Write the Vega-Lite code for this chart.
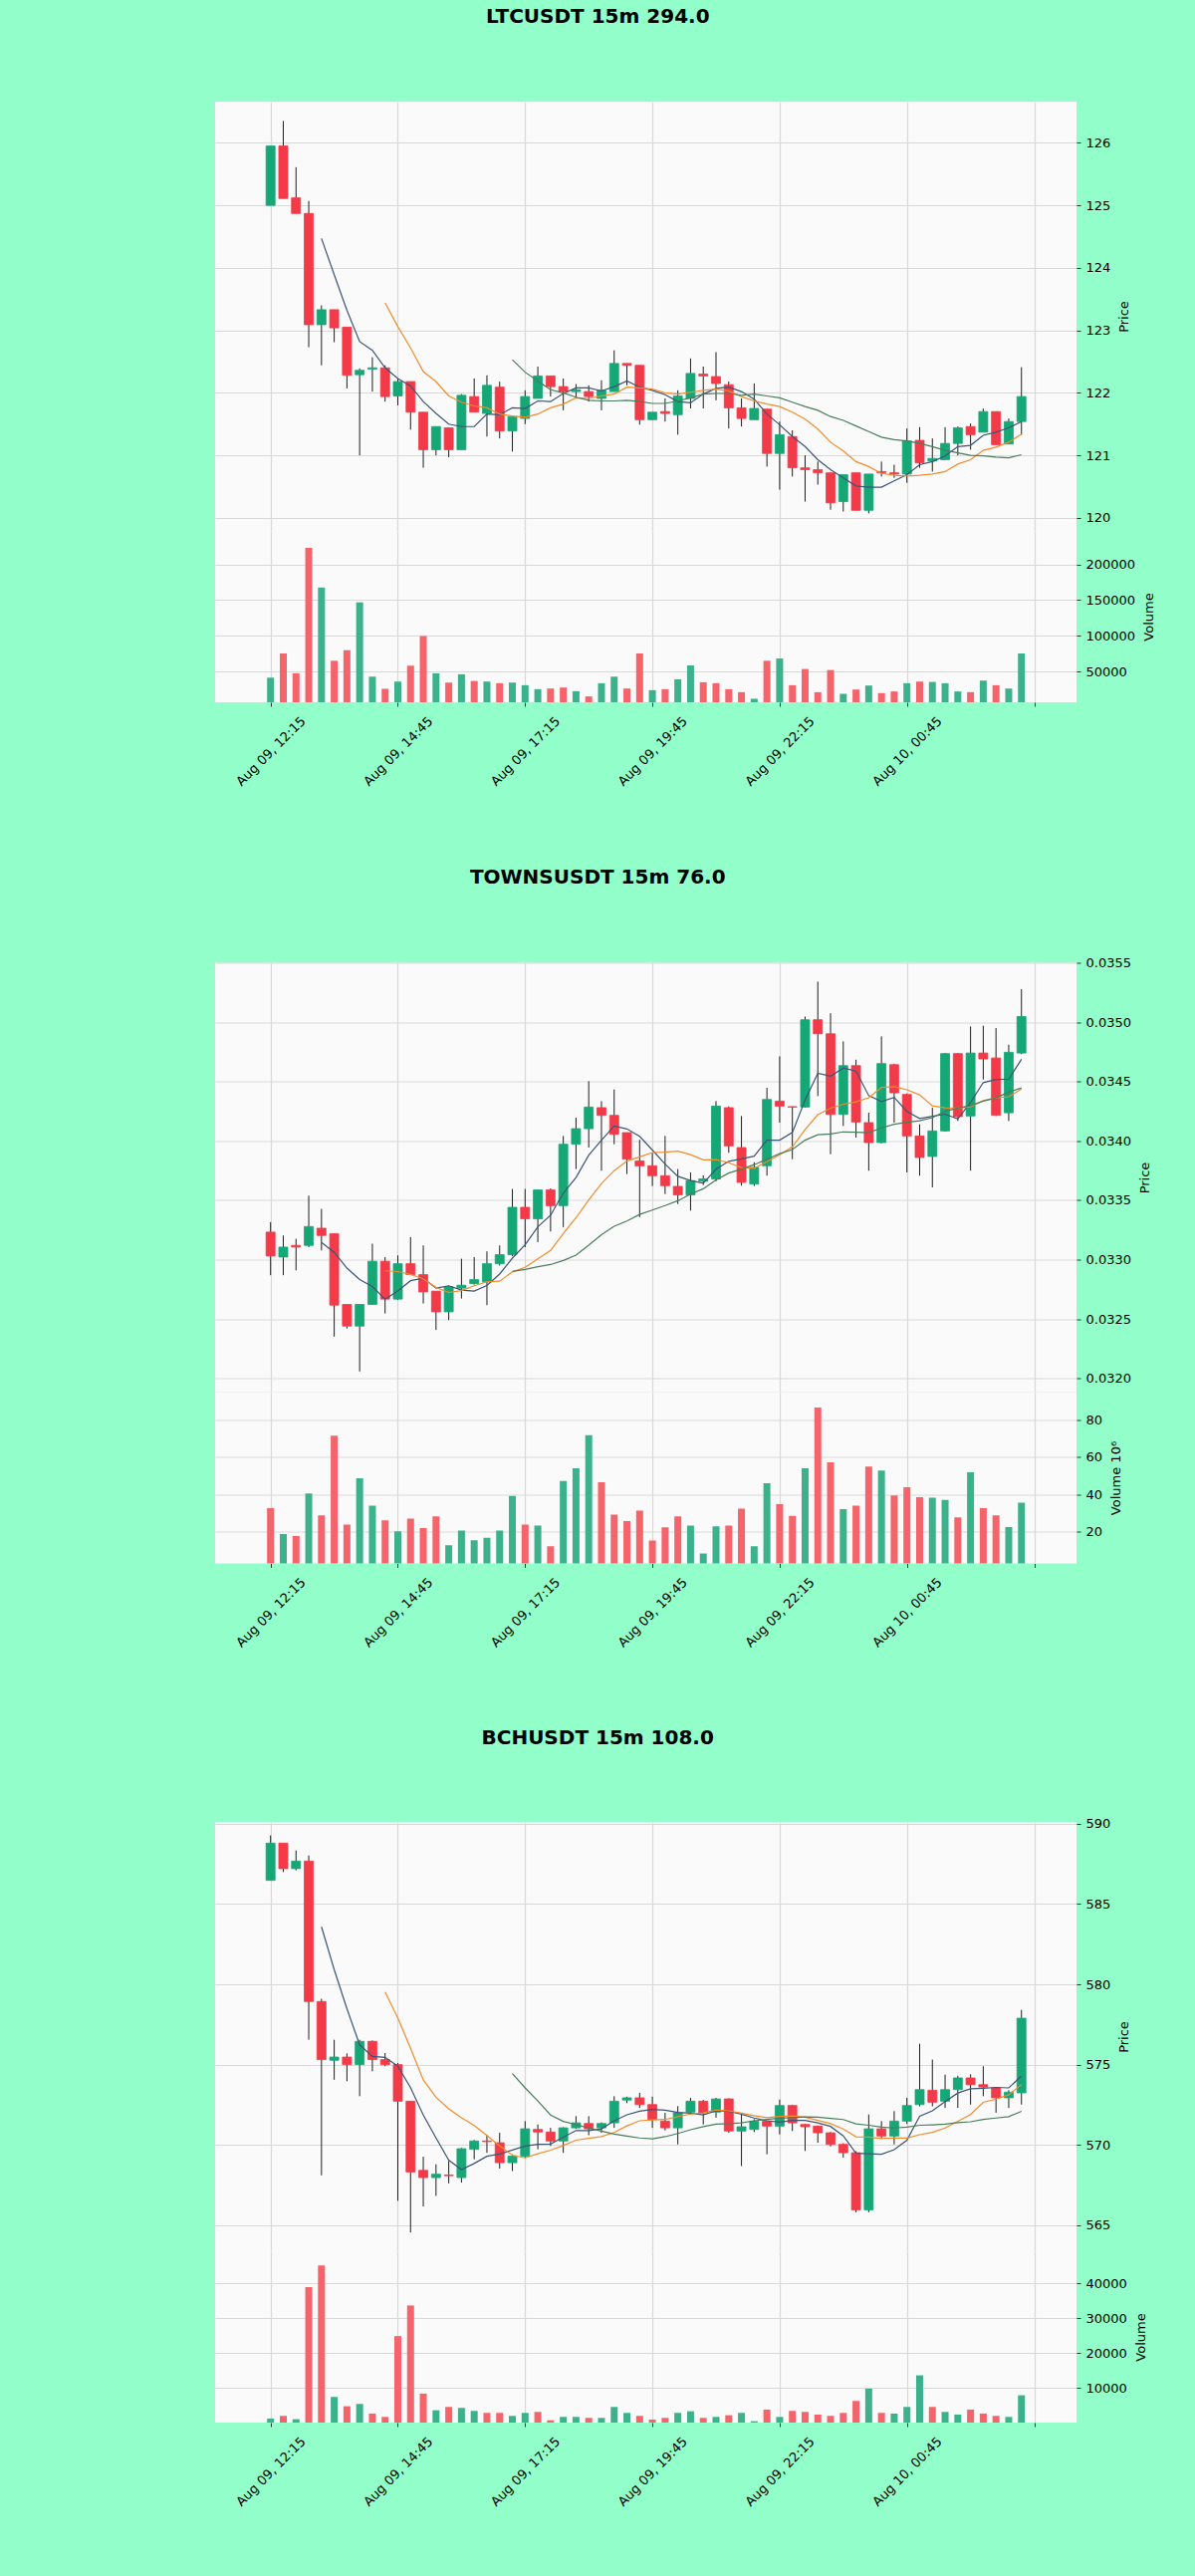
{
  "$schema": "https://vega.github.io/schema/vega-lite/v6.json",
  "background": "#92fec9",
  "padding": {"left": 216, "top": 6, "right": 60, "bottom": 120},
  "config": {
    "font": "DejaVu Sans",
    "view": {"fill": "#fafafa", "stroke": null},
    "axis": {
      "labelFont": "DejaVu Sans", "titleFont": "DejaVu Sans",
      "labelFontSize": 13, "titleFontSize": 13, "titleFontWeight": "normal",
      "labelColor": "#000000", "titleColor": "#000000",
      "gridColor": "#d9d9d9", "gridWidth": 1.2,
      "tickColor": "#333333", "tickSize": 4, "domain": false
    },
    "title": {"font": "DejaVu Sans", "fontSize": 20, "fontWeight": "bold", "color": "#000000"}
  },
  "datasets": {
    "ltc": [
      {"t":"2025-08-09T12:15","o":125.0,"h":125.95,"l":125.0,"c":125.95,"v":41500},
      {"t":"2025-08-09T12:30","o":125.95,"h":126.35,"l":125.11,"c":125.11,"v":75300},
      {"t":"2025-08-09T12:45","o":125.12,"h":125.61,"l":124.87,"c":124.87,"v":47600},
      {"t":"2025-08-09T13:00","o":124.87,"h":125.07,"l":122.73,"c":123.09,"v":223000},
      {"t":"2025-08-09T13:15","o":123.09,"h":123.4,"l":122.44,"c":123.33,"v":167600,"m5":124.47},
      {"t":"2025-08-09T13:30","o":123.33,"h":123.33,"l":122.81,"c":123.04,"v":65100,"m5":123.89},
      {"t":"2025-08-09T13:45","o":123.05,"h":123.05,"l":122.07,"c":122.28,"v":79900,"m5":123.32},
      {"t":"2025-08-09T14:00","o":122.29,"h":122.39,"l":121.0,"c":122.36,"v":146800,"m5":122.82},
      {"t":"2025-08-09T14:15","o":122.38,"h":122.57,"l":122.02,"c":122.4,"v":42900,"m5":122.68},
      {"t":"2025-08-09T14:30","o":122.4,"h":122.44,"l":121.86,"c":121.94,"v":25900,"m5":122.4,"m10":123.44},
      {"t":"2025-08-09T14:45","o":121.95,"h":122.23,"l":121.8,"c":122.18,"v":36000,"m5":122.23,"m10":123.06},
      {"t":"2025-08-09T15:00","o":122.18,"h":122.18,"l":121.41,"c":121.69,"v":58200,"m5":122.11,"m10":122.72},
      {"t":"2025-08-09T15:15","o":121.69,"h":121.69,"l":120.8,"c":121.09,"v":99700,"m5":121.86,"m10":122.34},
      {"t":"2025-08-09T15:30","o":121.09,"h":121.46,"l":121.0,"c":121.46,"v":47600,"m5":121.67,"m10":122.18},
      {"t":"2025-08-09T15:45","o":121.44,"h":121.44,"l":120.97,"c":121.09,"v":34600,"m5":121.5,"m10":121.95},
      {"t":"2025-08-09T16:00","o":121.09,"h":121.98,"l":121.09,"c":121.96,"v":46200,"m5":121.46,"m10":121.85},
      {"t":"2025-08-09T16:15","o":121.94,"h":122.23,"l":121.69,"c":121.69,"v":36900,"m5":121.46,"m10":121.79},
      {"t":"2025-08-09T16:30","o":121.67,"h":122.28,"l":121.3,"c":122.12,"v":36000,"m5":121.66,"m10":121.76},
      {"t":"2025-08-09T16:45","o":122.09,"h":122.18,"l":121.27,"c":121.39,"v":33700,"m5":121.65,"m10":121.66},
      {"t":"2025-08-09T17:00","o":121.39,"h":121.62,"l":121.06,"c":121.62,"v":34600,"m5":121.76,"m10":121.63,"m20":122.53},
      {"t":"2025-08-09T17:15","o":121.59,"h":122.04,"l":121.5,"c":121.94,"v":30900,"m5":121.75,"m10":121.61,"m20":122.33},
      {"t":"2025-08-09T17:30","o":121.91,"h":122.42,"l":121.91,"c":122.27,"v":25400,"m5":121.87,"m10":121.66,"m20":122.19},
      {"t":"2025-08-09T17:45","o":122.27,"h":122.27,"l":121.94,"c":122.1,"v":26300,"m5":121.86,"m10":121.76,"m20":122.05},
      {"t":"2025-08-09T18:00","o":122.1,"h":122.23,"l":121.72,"c":122.02,"v":27700,"m5":121.99,"m10":121.82,"m20":122.0},
      {"t":"2025-08-09T18:15","o":122.02,"h":122.14,"l":121.93,"c":122.05,"v":22600,"m5":122.08,"m10":121.92,"m20":121.93},
      {"t":"2025-08-09T18:30","o":122.02,"h":122.12,"l":121.86,"c":121.94,"v":15200,"m5":122.08,"m10":121.91,"m20":121.88},
      {"t":"2025-08-09T18:45","o":121.91,"h":122.2,"l":121.72,"c":122.04,"v":33700,"m5":122.03,"m10":121.95,"m20":121.87},
      {"t":"2025-08-09T19:00","o":122.02,"h":122.68,"l":122.02,"c":122.47,"v":42900,"m5":122.1,"m10":121.98,"m20":121.87},
      {"t":"2025-08-09T19:15","o":122.47,"h":122.47,"l":122.12,"c":122.44,"v":26300,"m5":122.19,"m10":122.09,"m20":121.88},
      {"t":"2025-08-09T19:30","o":122.44,"h":122.44,"l":121.49,"c":121.57,"v":75300,"m5":122.09,"m10":122.08,"m20":121.86},
      {"t":"2025-08-09T19:45","o":121.57,"h":121.69,"l":121.57,"c":121.69,"v":24000,"m5":122.04,"m10":122.06,"m20":121.83},
      {"t":"2025-08-09T20:00","o":121.7,"h":121.91,"l":121.54,"c":121.67,"v":25400,"m5":121.97,"m10":122.0,"m20":121.83},
      {"t":"2025-08-09T20:15","o":121.65,"h":122.04,"l":121.33,"c":121.95,"v":39200,"m5":121.86,"m10":121.98,"m20":121.87},
      {"t":"2025-08-09T20:30","o":121.91,"h":122.55,"l":121.75,"c":122.31,"v":58600,"m5":121.84,"m10":122.01,"m20":121.92},
      {"t":"2025-08-09T20:45","o":122.3,"h":122.42,"l":121.75,"c":122.27,"v":35100,"m5":121.98,"m10":122.04,"m20":121.98},
      {"t":"2025-08-09T21:00","o":122.26,"h":122.65,"l":121.88,"c":122.15,"v":33700,"m5":122.07,"m10":122.06,"m20":121.99},
      {"t":"2025-08-09T21:15","o":122.13,"h":122.18,"l":121.43,"c":121.76,"v":25400,"m5":122.09,"m10":122.03,"m20":121.99},
      {"t":"2025-08-09T21:30","o":121.76,"h":121.91,"l":121.46,"c":121.59,"v":21200,"m5":122.02,"m10":121.94,"m20":121.96},
      {"t":"2025-08-09T21:45","o":121.57,"h":122.15,"l":121.57,"c":121.75,"v":12000,"m5":121.9,"m10":121.87,"m20":121.98},
      {"t":"2025-08-09T22:00","o":121.74,"h":121.74,"l":120.82,"c":121.03,"v":65100,"m5":121.66,"m10":121.82,"m20":121.95},
      {"t":"2025-08-09T22:15","o":121.03,"h":121.54,"l":120.45,"c":121.33,"v":68300,"m5":121.49,"m10":121.78,"m20":121.92},
      {"t":"2025-08-09T22:30","o":121.3,"h":121.4,"l":120.66,"c":120.8,"v":30900,"m5":121.3,"m10":121.69,"m20":121.85},
      {"t":"2025-08-09T22:45","o":120.8,"h":121.0,"l":120.26,"c":120.77,"v":53600,"m5":121.14,"m10":121.58,"m20":121.78},
      {"t":"2025-08-09T23:00","o":120.77,"h":120.9,"l":120.53,"c":120.72,"v":21200,"m5":120.93,"m10":121.42,"m20":121.72},
      {"t":"2025-08-09T23:15","o":120.72,"h":120.72,"l":120.13,"c":120.24,"v":52200,"m5":120.77,"m10":121.21,"m20":121.62},
      {"t":"2025-08-09T23:30","o":120.26,"h":120.69,"l":120.1,"c":120.69,"v":18900,"m5":120.64,"m10":121.07,"m20":121.56},
      {"t":"2025-08-09T23:45","o":120.72,"h":120.72,"l":120.12,"c":120.12,"v":24900,"m5":120.51,"m10":120.9,"m20":121.47},
      {"t":"2025-08-10T00:00","o":120.12,"h":120.7,"l":120.07,"c":120.7,"v":30500,"m5":120.49,"m10":120.82,"m20":121.38},
      {"t":"2025-08-10T00:15","o":120.74,"h":120.9,"l":120.66,"c":120.72,"v":19900,"m5":120.49,"m10":120.71,"m20":121.29},
      {"t":"2025-08-10T00:30","o":120.72,"h":120.85,"l":120.64,"c":120.7,"v":22200,"m5":120.59,"m10":120.68,"m20":121.25},
      {"t":"2025-08-10T00:45","o":120.7,"h":121.43,"l":120.56,"c":121.23,"v":33700,"m5":120.69,"m10":120.67,"m20":121.23},
      {"t":"2025-08-10T01:00","o":121.24,"h":121.45,"l":120.8,"c":120.88,"v":36000,"m5":120.85,"m10":120.68,"m20":121.19},
      {"t":"2025-08-10T01:15","o":120.91,"h":121.27,"l":120.74,"c":120.95,"v":35500,"m5":120.9,"m10":120.7,"m20":121.14},
      {"t":"2025-08-10T01:30","o":120.93,"h":121.45,"l":120.93,"c":121.19,"v":33700,"m5":120.99,"m10":120.74,"m20":121.08},
      {"t":"2025-08-10T01:45","o":121.19,"h":121.46,"l":121.0,"c":121.44,"v":22200,"m5":121.14,"m10":120.86,"m20":121.04},
      {"t":"2025-08-10T02:00","o":121.46,"h":121.51,"l":121.09,"c":121.33,"v":21200,"m5":121.16,"m10":120.93,"m20":121.0},
      {"t":"2025-08-10T02:15","o":121.37,"h":121.75,"l":121.37,"c":121.7,"v":37400,"m5":121.32,"m10":121.08,"m20":120.99},
      {"t":"2025-08-10T02:30","o":121.7,"h":121.7,"l":121.17,"c":121.17,"v":30900,"m5":121.37,"m10":121.13,"m20":120.97},
      {"t":"2025-08-10T02:45","o":121.18,"h":121.59,"l":121.18,"c":121.54,"v":26300,"m5":121.44,"m10":121.21,"m20":120.96},
      {"t":"2025-08-10T03:00","o":121.54,"h":122.41,"l":121.33,"c":121.94,"v":75300,"m5":121.54,"m10":121.34,"m20":121.01}
    ],
    "towns": [
      {"t":"2025-08-09T12:15","o":0.033232,"h":0.033316,"l":0.032869,"c":0.033031,"v":32.5},
      {"t":"2025-08-09T12:30","o":0.033022,"h":0.033204,"l":0.032869,"c":0.033106,"v":18.6},
      {"t":"2025-08-09T12:45","o":0.03312,"h":0.033176,"l":0.03291,"c":0.033106,"v":17.4},
      {"t":"2025-08-09T13:00","o":0.03312,"h":0.033539,"l":0.033106,"c":0.033279,"v":40.5},
      {"t":"2025-08-09T13:15","o":0.033265,"h":0.033427,"l":0.033078,"c":0.033204,"v":28.6,"m5":0.033145},
      {"t":"2025-08-09T13:30","o":0.033218,"h":0.033218,"l":0.032352,"c":0.032617,"v":71.6,"m5":0.033062},
      {"t":"2025-08-09T13:45","o":0.032623,"h":0.032623,"l":0.03242,"c":0.032441,"v":23.6,"m5":0.032929},
      {"t":"2025-08-09T14:00","o":0.032441,"h":0.032623,"l":0.032059,"c":0.032623,"v":48.6,"m5":0.032833},
      {"t":"2025-08-09T14:15","o":0.032623,"h":0.033134,"l":0.032623,"c":0.032986,"v":33.8,"m5":0.032774},
      {"t":"2025-08-09T14:30","o":0.032986,"h":0.033022,"l":0.032547,"c":0.032668,"v":25.9,"m5":0.032667,"m10":0.032906},
      {"t":"2025-08-09T14:45","o":0.032668,"h":0.033036,"l":0.03266,"c":0.032966,"v":20.0,"m5":0.032737,"m10":0.0329},
      {"t":"2025-08-09T15:00","o":0.032966,"h":0.03319,"l":0.03287,"c":0.032874,"v":26.8,"m5":0.032823,"m10":0.032876},
      {"t":"2025-08-09T15:15","o":0.032874,"h":0.03312,"l":0.032631,"c":0.032729,"v":21.8,"m5":0.032845,"m10":0.032839},
      {"t":"2025-08-09T15:30","o":0.032735,"h":0.032735,"l":0.032408,"c":0.032561,"v":28.1,"m5":0.03276,"m10":0.032767},
      {"t":"2025-08-09T15:45","o":0.032561,"h":0.03278,"l":0.032492,"c":0.032771,"v":12.5,"m5":0.03278,"m10":0.032724},
      {"t":"2025-08-09T16:00","o":0.03276,"h":0.033008,"l":0.032673,"c":0.032785,"v":20.4,"m5":0.032744,"m10":0.03274},
      {"t":"2025-08-09T16:15","o":0.032799,"h":0.033022,"l":0.03279,"c":0.032832,"v":15.2,"m5":0.032736,"m10":0.03278},
      {"t":"2025-08-09T16:30","o":0.032813,"h":0.03307,"l":0.032617,"c":0.032966,"v":16.5,"m5":0.032783,"m10":0.032814},
      {"t":"2025-08-09T16:45","o":0.032966,"h":0.03312,"l":0.03295,"c":0.033042,"v":20.4,"m5":0.032879,"m10":0.032819},
      {"t":"2025-08-09T17:00","o":0.033042,"h":0.033595,"l":0.03303,"c":0.033441,"v":39.1,"m5":0.033013,"m10":0.032897,"m20":0.032901},
      {"t":"2025-08-09T17:15","o":0.033441,"h":0.033595,"l":0.033106,"c":0.033344,"v":23.6,"m5":0.033125,"m10":0.032935,"m20":0.032917},
      {"t":"2025-08-09T17:30","o":0.033344,"h":0.03359,"l":0.033148,"c":0.033587,"v":23.1,"m5":0.033276,"m10":0.033006,"m20":0.032941},
      {"t":"2025-08-09T17:45","o":0.033587,"h":0.0336,"l":0.033237,"c":0.033455,"v":12.0,"m5":0.033374,"m10":0.033078,"m20":0.032959},
      {"t":"2025-08-09T18:00","o":0.033455,"h":0.034042,"l":0.033274,"c":0.033972,"v":47.2,"m5":0.03356,"m10":0.03322,"m20":0.032993},
      {"t":"2025-08-09T18:15","o":0.033972,"h":0.034196,"l":0.033763,"c":0.034103,"v":54.0,"m5":0.033692,"m10":0.033353,"m20":0.033038},
      {"t":"2025-08-09T18:30","o":0.034103,"h":0.034503,"l":0.033944,"c":0.034285,"v":71.9,"m5":0.03388,"m10":0.033503,"m20":0.033122},
      {"t":"2025-08-09T18:45","o":0.03428,"h":0.034335,"l":0.033749,"c":0.034215,"v":46.5,"m5":0.034006,"m10":0.033641,"m20":0.03321},
      {"t":"2025-08-09T19:00","o":0.034215,"h":0.034433,"l":0.033972,"c":0.034056,"v":29.0,"m5":0.034126,"m10":0.03375,"m20":0.033282},
      {"t":"2025-08-09T19:15","o":0.03407,"h":0.03407,"l":0.033721,"c":0.033846,"v":25.5,"m5":0.034101,"m10":0.03383,"m20":0.033325},
      {"t":"2025-08-09T19:30","o":0.033832,"h":0.03401,"l":0.033358,"c":0.03379,"v":31.1,"m5":0.034038,"m10":0.033865,"m20":0.033381},
      {"t":"2025-08-09T19:45","o":0.03379,"h":0.0339,"l":0.03362,"c":0.033707,"v":15.0,"m5":0.033923,"m10":0.033902,"m20":0.033418},
      {"t":"2025-08-09T20:00","o":0.033707,"h":0.034042,"l":0.033553,"c":0.033623,"v":22.1,"m5":0.033804,"m10":0.033905,"m20":0.033456},
      {"t":"2025-08-09T20:15","o":0.033617,"h":0.033763,"l":0.033469,"c":0.033545,"v":28.1,"m5":0.033702,"m10":0.033914,"m20":0.033496},
      {"t":"2025-08-09T20:30","o":0.033545,"h":0.033735,"l":0.033413,"c":0.033665,"v":23.1,"m5":0.033666,"m10":0.033884,"m20":0.033552},
      {"t":"2025-08-09T20:45","o":0.03366,"h":0.03371,"l":0.03363,"c":0.03368,"v":8.0,"m5":0.033644,"m10":0.033841,"m20":0.033597},
      {"t":"2025-08-09T21:00","o":0.033679,"h":0.034335,"l":0.03366,"c":0.034293,"v":22.7,"m5":0.033761,"m10":0.033842,"m20":0.033672},
      {"t":"2025-08-09T21:15","o":0.03428,"h":0.03429,"l":0.0339,"c":0.033958,"v":23.1,"m5":0.033828,"m10":0.033816,"m20":0.033729},
      {"t":"2025-08-09T21:30","o":0.033944,"h":0.03421,"l":0.033623,"c":0.033651,"v":32.2,"m5":0.033849,"m10":0.033776,"m20":0.033763},
      {"t":"2025-08-09T21:45","o":0.033637,"h":0.03382,"l":0.03362,"c":0.033777,"v":12.0,"m5":0.033872,"m10":0.033769,"m20":0.0338},
      {"t":"2025-08-09T22:00","o":0.033791,"h":0.034447,"l":0.033707,"c":0.034349,"v":46.0,"m5":0.034006,"m10":0.033825,"m20":0.033845},
      {"t":"2025-08-09T22:15","o":0.034335,"h":0.034712,"l":0.034154,"c":0.034293,"v":34.7,"m5":0.034006,"m10":0.033883,"m20":0.033893},
      {"t":"2025-08-09T22:30","o":0.034288,"h":0.03429,"l":0.033846,"c":0.034285,"v":28.4,"m5":0.034071,"m10":0.03395,"m20":0.033927},
      {"t":"2025-08-09T22:45","o":0.034285,"h":0.035047,"l":0.03428,"c":0.03502,"v":54.0,"m5":0.034345,"m10":0.034097,"m20":0.034006},
      {"t":"2025-08-09T23:00","o":0.03502,"h":0.035341,"l":0.034377,"c":0.034902,"v":86.8,"m5":0.03457,"m10":0.034221,"m20":0.034052},
      {"t":"2025-08-09T23:15","o":0.034902,"h":0.035075,"l":0.033888,"c":0.034223,"v":57.2,"m5":0.034545,"m10":0.034275,"m20":0.034058},
      {"t":"2025-08-09T23:30","o":0.034223,"h":0.034838,"l":0.034126,"c":0.034634,"v":32.0,"m5":0.034613,"m10":0.034309,"m20":0.034076},
      {"t":"2025-08-09T23:45","o":0.034634,"h":0.034684,"l":0.034028,"c":0.034159,"v":33.8,"m5":0.034588,"m10":0.034329,"m20":0.034073},
      {"t":"2025-08-10T00:00","o":0.034154,"h":0.034237,"l":0.033749,"c":0.033986,"v":54.9,"m5":0.034381,"m10":0.034363,"m20":0.034069},
      {"t":"2025-08-10T00:15","o":0.033986,"h":0.03488,"l":0.03398,"c":0.034651,"v":52.8,"m5":0.034331,"m10":0.03445,"m20":0.03411},
      {"t":"2025-08-10T00:30","o":0.034642,"h":0.03465,"l":0.034154,"c":0.034405,"v":39.3,"m5":0.034367,"m10":0.034456,"m20":0.03414},
      {"t":"2025-08-10T00:45","o":0.034391,"h":0.0344,"l":0.033735,"c":0.034042,"v":43.8,"m5":0.034249,"m10":0.034431,"m20":0.034157},
      {"t":"2025-08-10T01:00","o":0.034042,"h":0.03414,"l":0.033707,"c":0.03386,"v":38.4,"m5":0.034189,"m10":0.034388,"m20":0.034169},
      {"t":"2025-08-10T01:15","o":0.033869,"h":0.034279,"l":0.033609,"c":0.034084,"v":38.2,"m5":0.034208,"m10":0.034295,"m20":0.034196},
      {"t":"2025-08-10T01:30","o":0.034084,"h":0.03474,"l":0.03408,"c":0.034735,"v":37.0,"m5":0.034225,"m10":0.034278,"m20":0.034249},
      {"t":"2025-08-10T01:45","o":0.034735,"h":0.03474,"l":0.034168,"c":0.034204,"v":27.5,"m5":0.034185,"m10":0.034276,"m20":0.034276},
      {"t":"2025-08-10T02:00","o":0.03421,"h":0.034964,"l":0.033749,"c":0.03474,"v":51.9,"m5":0.034325,"m10":0.034287,"m20":0.034298},
      {"t":"2025-08-10T02:15","o":0.03474,"h":0.03497,"l":0.034517,"c":0.03469,"v":32.5,"m5":0.034491,"m10":0.03434,"m20":0.034335},
      {"t":"2025-08-10T02:30","o":0.034698,"h":0.03495,"l":0.03421,"c":0.034215,"v":28.6,"m5":0.034517,"m10":0.034363,"m20":0.034363},
      {"t":"2025-08-10T02:45","o":0.034237,"h":0.03481,"l":0.034168,"c":0.034746,"v":22.3,"m5":0.034519,"m10":0.034372,"m20":0.034411},
      {"t":"2025-08-10T03:00","o":0.03474,"h":0.035277,"l":0.03473,"c":0.035047,"v":35.5,"m5":0.034688,"m10":0.034436,"m20":0.034446}
    ],
    "bch": [
      {"t":"2025-08-09T12:15","o":586.48,"h":589.28,"l":586.48,"c":588.8,"v":1240},
      {"t":"2025-08-09T12:30","o":588.8,"h":588.8,"l":587.0,"c":587.21,"v":2000},
      {"t":"2025-08-09T12:45","o":587.21,"h":588.34,"l":587.1,"c":587.68,"v":1050},
      {"t":"2025-08-09T13:00","o":587.68,"h":588.03,"l":576.55,"c":578.93,"v":38860},
      {"t":"2025-08-09T13:15","o":578.93,"h":579.1,"l":568.1,"c":575.31,"v":45050,"m5":583.59},
      {"t":"2025-08-09T13:30","o":575.27,"h":576.55,"l":574.06,"c":575.47,"v":7430,"m5":580.92},
      {"t":"2025-08-09T13:45","o":575.47,"h":575.7,"l":573.96,"c":575.0,"v":4760,"m5":578.48},
      {"t":"2025-08-09T14:00","o":575.0,"h":576.55,"l":573.03,"c":576.45,"v":5430,"m5":576.23},
      {"t":"2025-08-09T14:15","o":576.45,"h":576.5,"l":574.58,"c":575.31,"v":2670,"m5":575.51},
      {"t":"2025-08-09T14:30","o":575.31,"h":575.72,"l":574.9,"c":575.0,"v":1710,"m5":575.45,"m10":579.52},
      {"t":"2025-08-09T14:45","o":575.0,"h":575.1,"l":566.51,"c":572.72,"v":24860,"m5":574.9,"m10":577.91},
      {"t":"2025-08-09T15:00","o":572.72,"h":572.72,"l":564.54,"c":568.31,"v":33620,"m5":573.56,"m10":576.02},
      {"t":"2025-08-09T15:15","o":568.41,"h":569.26,"l":566.16,"c":567.96,"v":8380,"m5":571.86,"m10":574.05},
      {"t":"2025-08-09T15:30","o":567.96,"h":568.79,"l":566.82,"c":568.17,"v":3620,"m5":570.43,"m10":572.97},
      {"t":"2025-08-09T15:45","o":568.12,"h":569.0,"l":567.6,"c":568.08,"v":4570,"m5":569.05,"m10":572.25},
      {"t":"2025-08-09T16:00","o":567.96,"h":569.8,"l":567.65,"c":569.76,"v":4290,"m5":568.46,"m10":571.68},
      {"t":"2025-08-09T16:15","o":569.72,"h":570.3,"l":569.1,"c":570.24,"v":3430,"m5":568.84,"m10":571.2},
      {"t":"2025-08-09T16:30","o":570.24,"h":570.6,"l":569.5,"c":570.2,"v":2860,"m5":569.29,"m10":570.58},
      {"t":"2025-08-09T16:45","o":570.13,"h":570.75,"l":568.52,"c":568.89,"v":2860,"m5":569.43,"m10":569.93},
      {"t":"2025-08-09T17:00","o":568.89,"h":569.4,"l":568.37,"c":569.3,"v":2000,"m5":569.68,"m10":569.36,"m20":574.44},
      {"t":"2025-08-09T17:15","o":569.3,"h":571.48,"l":569.2,"c":571.0,"v":2860,"m5":569.93,"m10":569.19,"m20":573.55},
      {"t":"2025-08-09T17:30","o":570.96,"h":571.27,"l":569.72,"c":570.8,"v":3140,"m5":570.04,"m10":569.44,"m20":572.73},
      {"t":"2025-08-09T17:45","o":570.8,"h":571.06,"l":569.93,"c":570.24,"v":760,"m5":570.05,"m10":569.67,"m20":571.86},
      {"t":"2025-08-09T18:00","o":570.24,"h":571.1,"l":569.5,"c":571.06,"v":1710,"m5":570.48,"m10":569.96,"m20":571.46},
      {"t":"2025-08-09T18:15","o":571.06,"h":571.79,"l":571.0,"c":571.37,"v":1710,"m5":570.89,"m10":570.29,"m20":571.27},
      {"t":"2025-08-09T18:30","o":571.33,"h":571.79,"l":570.6,"c":571.0,"v":1430,"m5":570.89,"m10":570.41,"m20":571.04},
      {"t":"2025-08-09T18:45","o":571.06,"h":571.4,"l":570.75,"c":571.33,"v":1430,"m5":571.0,"m10":570.52,"m20":570.86},
      {"t":"2025-08-09T19:00","o":571.37,"h":573.03,"l":571.06,"c":572.72,"v":4570,"m5":571.5,"m10":570.77,"m20":570.67},
      {"t":"2025-08-09T19:15","o":572.79,"h":573.0,"l":572.6,"c":572.93,"v":2860,"m5":571.87,"m10":571.18,"m20":570.55},
      {"t":"2025-08-09T19:30","o":572.93,"h":573.24,"l":572.3,"c":572.51,"v":2000,"m5":572.1,"m10":571.5,"m20":570.43},
      {"t":"2025-08-09T19:45","o":572.51,"h":573.0,"l":571.06,"c":571.58,"v":950,"m5":572.21,"m10":571.55,"m20":570.37},
      {"t":"2025-08-09T20:00","o":571.48,"h":572.0,"l":570.9,"c":571.06,"v":1430,"m5":572.16,"m10":571.58,"m20":570.51},
      {"t":"2025-08-09T20:15","o":571.06,"h":572.41,"l":570.03,"c":572.0,"v":2860,"m5":572.02,"m10":571.76,"m20":570.71},
      {"t":"2025-08-09T20:30","o":572.04,"h":572.93,"l":571.9,"c":572.72,"v":3330,"m5":571.97,"m10":571.92,"m20":570.94},
      {"t":"2025-08-09T20:45","o":572.72,"h":572.8,"l":571.27,"c":572.0,"v":1430,"m5":571.87,"m10":571.99,"m20":571.14},
      {"t":"2025-08-09T21:00","o":572.04,"h":572.93,"l":571.7,"c":572.86,"v":1710,"m5":572.13,"m10":572.17,"m20":571.29},
      {"t":"2025-08-09T21:15","o":572.86,"h":572.9,"l":570.75,"c":570.86,"v":2190,"m5":572.09,"m10":572.12,"m20":571.32},
      {"t":"2025-08-09T21:30","o":570.86,"h":571.89,"l":568.68,"c":571.13,"v":2860,"m5":571.91,"m10":571.97,"m20":571.37},
      {"t":"2025-08-09T21:45","o":570.96,"h":571.6,"l":570.8,"c":571.48,"v":480,"m5":571.67,"m10":571.82,"m20":571.5},
      {"t":"2025-08-09T22:00","o":571.48,"h":571.5,"l":569.41,"c":571.17,"v":3810,"m5":571.5,"m10":571.69,"m20":571.59},
      {"t":"2025-08-09T22:15","o":571.17,"h":572.82,"l":570.65,"c":572.45,"v":1710,"m5":571.42,"m10":571.77,"m20":571.66},
      {"t":"2025-08-09T22:30","o":572.45,"h":572.5,"l":570.86,"c":571.37,"v":3430,"m5":571.52,"m10":571.8,"m20":571.69},
      {"t":"2025-08-09T22:45","o":571.27,"h":571.3,"l":569.62,"c":571.13,"v":3140,"m5":571.52,"m10":571.72,"m20":571.74},
      {"t":"2025-08-09T23:00","o":571.17,"h":571.2,"l":570.13,"c":570.75,"v":2380,"m5":571.37,"m10":571.52,"m20":571.72},
      {"t":"2025-08-09T23:15","o":570.75,"h":570.8,"l":569.9,"c":570.03,"v":2000,"m5":571.15,"m10":571.32,"m20":571.65},
      {"t":"2025-08-09T23:30","o":570.03,"h":570.1,"l":569.2,"c":569.51,"v":2860,"m5":570.56,"m10":570.99,"m20":571.58},
      {"t":"2025-08-09T23:45","o":569.51,"h":569.6,"l":565.8,"c":565.95,"v":6290,"m5":569.47,"m10":570.5,"m20":571.31},
      {"t":"2025-08-10T00:00","o":565.95,"h":571.89,"l":565.8,"c":571.0,"v":9810,"m5":569.45,"m10":570.48,"m20":571.22},
      {"t":"2025-08-10T00:15","o":571.0,"h":571.48,"l":570.4,"c":570.55,"v":2860,"m5":569.41,"m10":570.39,"m20":571.11},
      {"t":"2025-08-10T00:30","o":570.55,"h":572.1,"l":570.03,"c":571.48,"v":2670,"m5":569.7,"m10":570.42,"m20":571.05},
      {"t":"2025-08-10T00:45","o":571.48,"h":572.93,"l":571.3,"c":572.45,"v":4570,"m5":570.29,"m10":570.42,"m20":571.1},
      {"t":"2025-08-10T01:00","o":572.51,"h":576.3,"l":572.4,"c":573.44,"v":13620,"m5":571.78,"m10":570.63,"m20":571.22},
      {"t":"2025-08-10T01:15","o":573.4,"h":575.31,"l":572.4,"c":572.66,"v":4570,"m5":572.12,"m10":570.78,"m20":571.25},
      {"t":"2025-08-10T01:30","o":572.72,"h":574.37,"l":572.3,"c":573.44,"v":3140,"m5":572.69,"m10":571.05,"m20":571.29},
      {"t":"2025-08-10T01:45","o":573.44,"h":574.3,"l":572.3,"c":574.17,"v":2380,"m5":573.23,"m10":571.47,"m20":571.39},
      {"t":"2025-08-10T02:00","o":574.17,"h":574.4,"l":572.51,"c":573.75,"v":3810,"m5":573.49,"m10":571.89,"m20":571.44},
      {"t":"2025-08-10T02:15","o":573.75,"h":574.9,"l":573.03,"c":573.6,"v":2670,"m5":573.52,"m10":572.65,"m20":571.58},
      {"t":"2025-08-10T02:30","o":573.55,"h":573.6,"l":572.0,"c":572.93,"v":2000,"m5":573.58,"m10":572.85,"m20":571.67},
      {"t":"2025-08-10T02:45","o":572.93,"h":573.4,"l":572.3,"c":573.28,"v":1710,"m5":573.55,"m10":573.12,"m20":571.76},
      {"t":"2025-08-10T03:00","o":573.24,"h":578.41,"l":572.51,"c":577.89,"v":7900,"m5":574.29,"m10":573.76,"m20":572.09}
    ]
  },
  "spacing": 78.5,
  "vconcat": [
    {
      "data": {"name": "ltc"},
      "title": {"text": "LTCUSDT 15m 294.0", "frame": "bounds", "anchor": "middle", "dx": -88, "offset": 65.5, "baseline": "middle"},
      "spacing": 0,
      "bounds": "flush",
      "vconcat": [
        {
          "width": 865, "height": 431,
          "encoding": {
            "x": {"field": "t", "type": "temporal", "title": null,
              "scale": {"domain": [{"year": 2025, "month": 8, "date": 9, "hours": 11, "minutes": 15, "seconds": 30}, {"year": 2025, "month": 8, "date": 10, "hours": 3, "minutes": 59}]},
              "axis": {"values": [{"year": 2025, "month": 8, "date": 9, "hours": 12, "minutes": 15}, {"year": 2025, "month": 8, "date": 9, "hours": 14, "minutes": 45}, {"year": 2025, "month": 8, "date": 9, "hours": 17, "minutes": 15}, {"year": 2025, "month": 8, "date": 9, "hours": 19, "minutes": 45}, {"year": 2025, "month": 8, "date": 9, "hours": 22, "minutes": 15}, {"year": 2025, "month": 8, "date": 10, "hours": 0, "minutes": 45}, {"year": 2025, "month": 8, "date": 10, "hours": 3, "minutes": 15}], "labels": false, "ticks": false, "grid": true}}
          },
          "layer": [
            {"mark": {"type": "rule", "color": "#1e1e1e", "strokeWidth": 1},
             "encoding": {"y": {"field": "l", "type": "quantitative", "title": "Price", "scale": {"domain": [119.79, 126.66], "nice": false, "zero": false},
               "axis": {"orient": "right", "values": [120, 121, 122, 123, 124, 125, 126], "format": "d", "labelPadding": 5, "titleAngle": 270, "titleBaseline": "top", "titlePadding": 8, "grid": true}},
               "y2": {"field": "h"}}},
            {"mark": {"type": "bar", "size": 9, "strokeWidth": 0.8},
             "encoding": {"y": {"field": "o", "type": "quantitative", "title": "Price"}, "y2": {"field": "c"},
               "color": {"condition": {"test": "datum.c >= datum.o", "value": "#16a776"}, "value": "#f23a48"},
               "stroke": {"condition": {"test": "datum.c >= datum.o", "value": "#16a776"}, "value": "#f23a48"}}},
            {"mark": {"type": "line", "color": "#3d5576", "strokeWidth": 1.2}, "encoding": {"y": {"field": "m5", "type": "quantitative", "title": "Price"}}},
            {"mark": {"type": "line", "color": "#f08c2e", "strokeWidth": 1.2}, "encoding": {"y": {"field": "m10", "type": "quantitative", "title": "Price"}}},
            {"mark": {"type": "line", "color": "#4a7d5c", "strokeWidth": 1.2}, "encoding": {"y": {"field": "m20", "type": "quantitative", "title": "Price"}}}
          ]
        },
        {
          "width": 865, "height": 172,
          "mark": {"type": "bar", "size": 7, "clip": true},
          "encoding": {
            "x": {"field": "t", "type": "temporal", "title": null,
              "scale": {"domain": [{"year": 2025, "month": 8, "date": 9, "hours": 11, "minutes": 15, "seconds": 30}, {"year": 2025, "month": 8, "date": 10, "hours": 3, "minutes": 59}]},
              "axis": {"values": [{"year": 2025, "month": 8, "date": 9, "hours": 12, "minutes": 15}, {"year": 2025, "month": 8, "date": 9, "hours": 14, "minutes": 45}, {"year": 2025, "month": 8, "date": 9, "hours": 17, "minutes": 15}, {"year": 2025, "month": 8, "date": 9, "hours": 19, "minutes": 45}, {"year": 2025, "month": 8, "date": 9, "hours": 22, "minutes": 15}, {"year": 2025, "month": 8, "date": 10, "hours": 0, "minutes": 45}, {"year": 2025, "month": 8, "date": 10, "hours": 3, "minutes": 15}],
                "labelExpr": "hours(datum.value) == 3 ? '' : timeFormat(datum.value, '%b %d, %H:%M')",
                "labelAngle": -45, "labelAlign": "center", "labelBaseline": "middle", "labelPadding": 45, "labelOverlap": false, "labelFlush": false, "grid": true}},
            "y": {"field": "v", "type": "quantitative", "title": "Volume", "scale": {"domain": [7060, 246700], "nice": false, "zero": false},
              "axis": {"orient": "right", "values": [50000, 100000, 150000, 200000], "format": "d", "labelPadding": 5, "titleAngle": 270, "titleBaseline": "top", "titlePadding": 8, "grid": true}},
            "color": {"condition": {"test": "datum.c >= datum.o", "value": "#3cb28c"}, "value": "#f5646a"}
          }
        }
      ]
    },
    {
      "data": {"name": "towns"},
      "title": {"text": "TOWNSUSDT 15m 76.0", "frame": "bounds", "anchor": "middle", "dx": -86, "offset": 59.5, "baseline": "middle"},
      "spacing": 0,
      "bounds": "flush",
      "vconcat": [
        {
          "width": 865, "height": 431,
          "encoding": {
            "x": {"field": "t", "type": "temporal", "title": null,
              "scale": {"domain": [{"year": 2025, "month": 8, "date": 9, "hours": 11, "minutes": 15, "seconds": 30}, {"year": 2025, "month": 8, "date": 10, "hours": 3, "minutes": 59}]},
              "axis": {"values": [{"year": 2025, "month": 8, "date": 9, "hours": 12, "minutes": 15}, {"year": 2025, "month": 8, "date": 9, "hours": 14, "minutes": 45}, {"year": 2025, "month": 8, "date": 9, "hours": 17, "minutes": 15}, {"year": 2025, "month": 8, "date": 9, "hours": 19, "minutes": 45}, {"year": 2025, "month": 8, "date": 9, "hours": 22, "minutes": 15}, {"year": 2025, "month": 8, "date": 10, "hours": 0, "minutes": 45}, {"year": 2025, "month": 8, "date": 10, "hours": 3, "minutes": 15}], "labels": false, "ticks": false, "grid": true}}
          },
          "layer": [
            {"mark": {"type": "rule", "color": "#1e1e1e", "strokeWidth": 1},
             "encoding": {"y": {"field": "l", "type": "quantitative", "title": "Price", "scale": {"domain": [0.031885, 0.0355], "nice": false, "zero": false},
               "axis": {"orient": "right", "values": [0.032, 0.0325, 0.033, 0.0335, 0.034, 0.0345, 0.035, 0.0355], "format": ".4f", "labelPadding": 5, "titleAngle": 270, "titleBaseline": "top", "titlePadding": 8, "grid": true}},
               "y2": {"field": "h"}}},
            {"mark": {"type": "bar", "size": 9, "strokeWidth": 0.8},
             "encoding": {"y": {"field": "o", "type": "quantitative", "title": "Price"}, "y2": {"field": "c"},
               "color": {"condition": {"test": "datum.c >= datum.o", "value": "#16a776"}, "value": "#f23a48"},
               "stroke": {"condition": {"test": "datum.c >= datum.o", "value": "#16a776"}, "value": "#f23a48"}}},
            {"mark": {"type": "line", "color": "#3d5576", "strokeWidth": 1.2}, "encoding": {"y": {"field": "m5", "type": "quantitative", "title": "Price"}}},
            {"mark": {"type": "line", "color": "#f08c2e", "strokeWidth": 1.2}, "encoding": {"y": {"field": "m10", "type": "quantitative", "title": "Price"}}},
            {"mark": {"type": "line", "color": "#4a7d5c", "strokeWidth": 1.2}, "encoding": {"y": {"field": "m20", "type": "quantitative", "title": "Price"}}}
          ]
        },
        {
          "width": 865, "height": 172,
          "mark": {"type": "bar", "size": 7, "clip": true},
          "encoding": {
            "x": {"field": "t", "type": "temporal", "title": null,
              "scale": {"domain": [{"year": 2025, "month": 8, "date": 9, "hours": 11, "minutes": 15, "seconds": 30}, {"year": 2025, "month": 8, "date": 10, "hours": 3, "minutes": 59}]},
              "axis": {"values": [{"year": 2025, "month": 8, "date": 9, "hours": 12, "minutes": 15}, {"year": 2025, "month": 8, "date": 9, "hours": 14, "minutes": 45}, {"year": 2025, "month": 8, "date": 9, "hours": 17, "minutes": 15}, {"year": 2025, "month": 8, "date": 9, "hours": 19, "minutes": 45}, {"year": 2025, "month": 8, "date": 9, "hours": 22, "minutes": 15}, {"year": 2025, "month": 8, "date": 10, "hours": 0, "minutes": 45}, {"year": 2025, "month": 8, "date": 10, "hours": 3, "minutes": 15}],
                "labelExpr": "hours(datum.value) == 3 ? '' : timeFormat(datum.value, '%b %d, %H:%M')",
                "labelAngle": -45, "labelAlign": "center", "labelBaseline": "middle", "labelPadding": 45, "labelOverlap": false, "labelFlush": false, "grid": true}},
            "y": {"field": "v", "type": "quantitative", "title": "Volume  10⁶", "scale": {"domain": [2.69, 95.1], "nice": false, "zero": false},
              "axis": {"orient": "right", "values": [20, 40, 60, 80], "format": "d", "labelPadding": 5, "titleAngle": 270, "titleBaseline": "top", "titlePadding": 8, "grid": true}},
            "color": {"condition": {"test": "datum.c >= datum.o", "value": "#3cb28c"}, "value": "#f5646a"}
          }
        }
      ]
    },
    {
      "data": {"name": "bch"},
      "title": {"text": "BCHUSDT 15m 108.0", "frame": "bounds", "anchor": "middle", "dx": -84, "offset": 59.5, "baseline": "middle"},
      "spacing": 0,
      "bounds": "flush",
      "vconcat": [
        {
          "width": 865, "height": 431,
          "encoding": {
            "x": {"field": "t", "type": "temporal", "title": null,
              "scale": {"domain": [{"year": 2025, "month": 8, "date": 9, "hours": 11, "minutes": 15, "seconds": 30}, {"year": 2025, "month": 8, "date": 10, "hours": 3, "minutes": 59}]},
              "axis": {"values": [{"year": 2025, "month": 8, "date": 9, "hours": 12, "minutes": 15}, {"year": 2025, "month": 8, "date": 9, "hours": 14, "minutes": 45}, {"year": 2025, "month": 8, "date": 9, "hours": 17, "minutes": 15}, {"year": 2025, "month": 8, "date": 9, "hours": 19, "minutes": 45}, {"year": 2025, "month": 8, "date": 9, "hours": 22, "minutes": 15}, {"year": 2025, "month": 8, "date": 10, "hours": 0, "minutes": 45}, {"year": 2025, "month": 8, "date": 10, "hours": 3, "minutes": 15}], "labels": false, "ticks": false, "grid": true}}
          },
          "layer": [
            {"mark": {"type": "rule", "color": "#1e1e1e", "strokeWidth": 1},
             "encoding": {"y": {"field": "l", "type": "quantitative", "title": "Price", "scale": {"domain": [563.37, 590.12], "nice": false, "zero": false},
               "axis": {"orient": "right", "values": [565, 570, 575, 580, 585, 590], "format": "d", "labelPadding": 5, "titleAngle": 270, "titleBaseline": "top", "titlePadding": 8, "grid": true}},
               "y2": {"field": "h"}}},
            {"mark": {"type": "bar", "size": 9, "strokeWidth": 0.8},
             "encoding": {"y": {"field": "o", "type": "quantitative", "title": "Price"}, "y2": {"field": "c"},
               "color": {"condition": {"test": "datum.c >= datum.o", "value": "#16a776"}, "value": "#f23a48"},
               "stroke": {"condition": {"test": "datum.c >= datum.o", "value": "#16a776"}, "value": "#f23a48"}}},
            {"mark": {"type": "line", "color": "#3d5576", "strokeWidth": 1.2}, "encoding": {"y": {"field": "m5", "type": "quantitative", "title": "Price"}}},
            {"mark": {"type": "line", "color": "#f08c2e", "strokeWidth": 1.2}, "encoding": {"y": {"field": "m10", "type": "quantitative", "title": "Price"}}},
            {"mark": {"type": "line", "color": "#4a7d5c", "strokeWidth": 1.2}, "encoding": {"y": {"field": "m20", "type": "quantitative", "title": "Price"}}}
          ]
        },
        {
          "width": 865, "height": 172,
          "mark": {"type": "bar", "size": 7, "clip": true},
          "encoding": {
            "x": {"field": "t", "type": "temporal", "title": null,
              "scale": {"domain": [{"year": 2025, "month": 8, "date": 9, "hours": 11, "minutes": 15, "seconds": 30}, {"year": 2025, "month": 8, "date": 10, "hours": 3, "minutes": 59}]},
              "axis": {"values": [{"year": 2025, "month": 8, "date": 9, "hours": 12, "minutes": 15}, {"year": 2025, "month": 8, "date": 9, "hours": 14, "minutes": 45}, {"year": 2025, "month": 8, "date": 9, "hours": 17, "minutes": 15}, {"year": 2025, "month": 8, "date": 9, "hours": 19, "minutes": 45}, {"year": 2025, "month": 8, "date": 9, "hours": 22, "minutes": 15}, {"year": 2025, "month": 8, "date": 10, "hours": 0, "minutes": 45}, {"year": 2025, "month": 8, "date": 10, "hours": 3, "minutes": 15}],
                "labelExpr": "hours(datum.value) == 3 ? '' : timeFormat(datum.value, '%b %d, %H:%M')",
                "labelAngle": -45, "labelAlign": "center", "labelBaseline": "middle", "labelPadding": 45, "labelOverlap": false, "labelFlush": false, "grid": true}},
            "y": {"field": "v", "type": "quantitative", "title": "Volume", "scale": {"domain": [80, 49150], "nice": false, "zero": false},
              "axis": {"orient": "right", "values": [10000, 20000, 30000, 40000], "format": "d", "labelPadding": 5, "titleAngle": 270, "titleBaseline": "top", "titlePadding": 8, "grid": true}},
            "color": {"condition": {"test": "datum.c >= datum.o", "value": "#3cb28c"}, "value": "#f5646a"}
          }
        }
      ]
    }
  ]
}
